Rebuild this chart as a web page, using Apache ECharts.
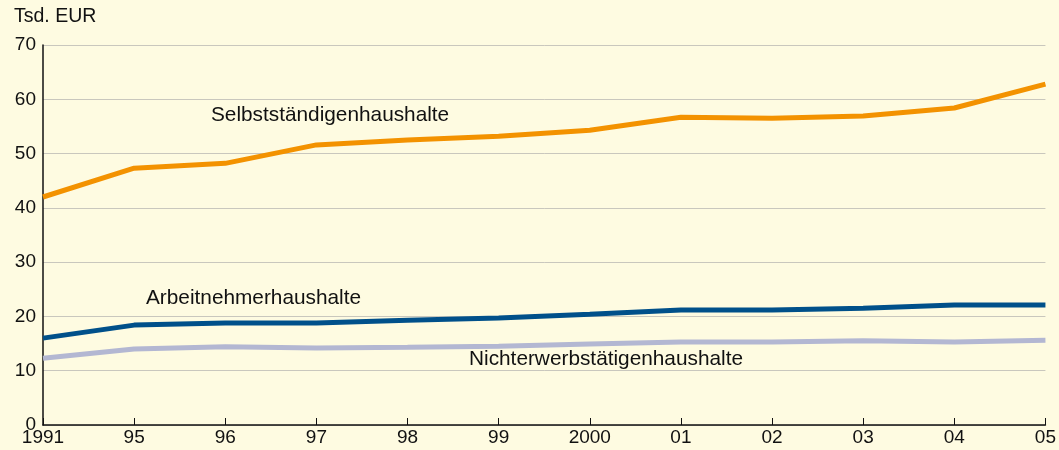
<!DOCTYPE html>
<html>
<head>
<meta charset="utf-8">
<script src="https://cdn.jsdelivr.net/npm/echarts@6/dist/echarts.min.js"></script>
<style>
  html, body { margin: 0; padding: 0; background: #fefbe1; }
  #chart { width: 1059px; height: 450px; }
</style>
</head>
<body>
<div id="chart"></div>
<script>
// Jahre (x-Achse)
const years = ['1991', '95', '96', '97', '98', '99', '2000', '01', '02', '03', '04', '05']
// Werte in Tsd. EUR
const selbststaendige = [42.0, 47.3, 48.2, 51.6, 52.5, 53.2, 54.3, 56.7, 56.5, 56.9, 58.4, 62.8]
const arbeitnehmer = [16.0, 18.4, 18.8, 18.8, 19.3, 19.7, 20.4, 21.2, 21.2, 21.5, 22.1, 22.1]
const nichterwerbstaetige = [12.3, 14.0, 14.4, 14.2, 14.3, 14.5, 14.9, 15.3, 15.3, 15.5, 15.3, 15.6]

const font = 'Liberation Sans, Arial, sans-serif'
const chart = echarts.init(document.getElementById('chart'))

function line(name, data, color) {
  return {
    name: name,
    type: 'line',
    data: data,
    symbol: 'none',
    lineStyle: { color: color, width: 5 },
    z: 3
  }
}

chart.setOption({
  backgroundColor: '#fefbe1',
  animation: false,
  grid: { left: 43, right: 11, top: 45, bottom: 25 },
  xAxis: {
    type: 'category',
    data: years,
    boundaryGap: false,
    axisLine: { lineStyle: { color: '#111', width: 1.5 } },
    axisTick: { inside: true, length: 7, lineStyle: { color: '#111' } },
    axisLabel: { color: '#111', fontSize: 19, fontFamily: font, margin: 3 },
    splitLine: { show: false }
  },
  yAxis: {
    type: 'value',
    min: 0,
    max: 70,
    interval: 10,
    axisLine: { show: true, lineStyle: { color: '#111', width: 1.5 } },
    axisTick: { show: false },
    axisLabel: { color: '#111', fontSize: 19, fontFamily: font, margin: 7 },
    splitLine: { lineStyle: { color: '#c9c7bd', width: 1 } }
  },
  series: [
    line('Selbstständigenhaushalte', selbststaendige, '#f39200'),
    line('Arbeitnehmerhaushalte', arbeitnehmer, '#00508a'),
    line('Nichterwerbstätigenhaushalte', nichterwerbstaetige, '#b3b7d2')
  ],
  graphic: [
    { type: 'text', left: 14, top: 7, style: { text: 'Tsd. EUR', fontSize: 19.5, fontFamily: font, fill: '#111' } },
    { type: 'text', left: 211, top: 105, style: { text: 'Selbstständigenhaushalte', fontSize: 20.8, fontFamily: font, fill: '#111' } },
    { type: 'text', left: 146, top: 288, style: { text: 'Arbeitnehmerhaushalte', fontSize: 20.8, fontFamily: font, fill: '#111' } },
    { type: 'text', left: 469, top: 349, style: { text: 'Nichterwerbstätigenhaushalte', fontSize: 20.8, fontFamily: font, fill: '#111' } }
  ]
})
</script>
</body>
</html>
